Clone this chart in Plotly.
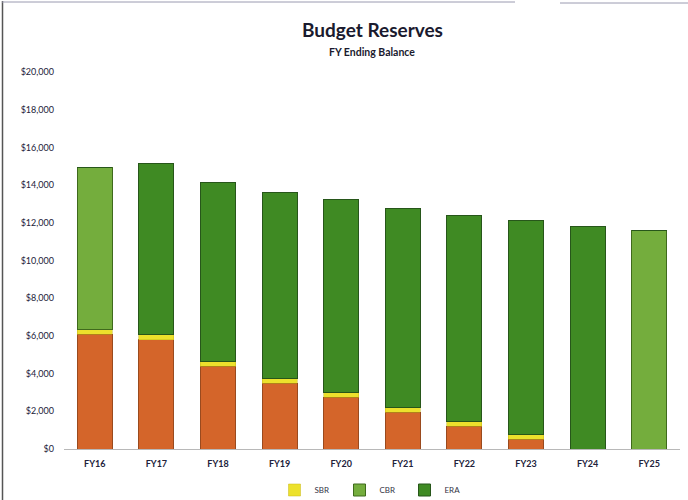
import plotly.graph_objects as go

years = ["FY16", "FY17", "FY18", "FY19", "FY20", "FY21", "FY22", "FY23", "FY24", "FY25"]
other = [6100, 5800, 4400, 3500, 2750, 1950, 1200, 530, 0, 0]
sbr = [260, 260, 260, 260, 260, 260, 260, 260, 0, 0]
cbr = [8570, 0, 0, 0, 0, 0, 0, 0, 0, 11580]
era = [0, 9110, 9490, 9860, 10250, 10560, 10950, 11320, 11790, 0]
y_ticks = [0, 2000, 4000, 6000, 8000, 10000, 12000, 14000, 16000, 18000, 20000]
y_labels = ["$0", "$2,000", "$4,000", "$6,000", "$8,000", "$10,000", "$12,000",
            "$14,000", "$16,000", "$18,000", "$20,000"]

FONT = "Lato"
W, H = 688, 500
ML, MR, MT, MB = 64, 8, 72, 51
plot_h = H - MT - MB
plot_w = W - ML - MR


def py(pix):
    return (H - MB - pix) / plot_h


def px(pix):
    return (pix - ML) / plot_w


fig = go.Figure()
fig.add_bar(x=years, y=other, name="Other", showlegend=False,
            marker=dict(color="#d4652a", line=dict(color="#9a4a1e", width=1)))
fig.add_bar(x=years, y=sbr, name="SBR",
            marker=dict(color="#ece12c", line=dict(color="#c8b818", width=0.5)))
fig.add_bar(x=years, y=cbr, name="CBR",
            marker=dict(color="#74ad3d", line=dict(color="#3f6a1c", width=1)))
fig.add_bar(x=years, y=era, name="ERA",
            marker=dict(color="#3f8a23", line=dict(color="#27561a", width=1)))

fig.update_layout(
    barmode="stack",
    bargap=0.43,
    width=W, height=H,
    margin=dict(l=ML, r=MR, t=MT, b=MB, autoexpand=False),
    paper_bgcolor="white", plot_bgcolor="white",
    font=dict(family=FONT, color="#22223a"),
    showlegend=True,
    legend=dict(orientation="h", x=0.5, xanchor="center",
                yref="container", y=1 - 490 / H, yanchor="middle",
                font=dict(size=8, family=FONT, color="#333344"), traceorder="normal",
                itemwidth=30, entrywidth=20, entrywidthmode="pixels"),
    xaxis=dict(showline=True, linecolor="#b8b8b8", linewidth=1, ticks="",
               tickfont=dict(size=9, family=FONT, color="#22223a", weight="bold"),
               ticklabelstandoff=6, showgrid=False),
    yaxis=dict(range=[0, 20000], tickvals=y_ticks, ticktext=y_labels,
               tickfont=dict(size=9, family=FONT, color="#22223a"),
               showgrid=False, zeroline=False, showline=False, ticks="",
               ticklabelstandoff=9),
    annotations=[
        dict(text="<b>Budget Reserves</b>", x=0.5, y=py(30), xref="paper", yref="paper",
             yanchor="middle", showarrow=False,
             font=dict(size=19, family=FONT, color="#1a1a2e")),
        dict(text="<b>FY Ending Balance</b>", x=0.5, y=py(52), xref="paper", yref="paper",
             yanchor="middle", showarrow=False,
             font=dict(size=10.5, family=FONT, color="#1a1a2e")),
    ],
    shapes=[
        dict(type="line", xref="paper", yref="paper", x0=px(2.5), x1=px(2.5), y0=py(500), y1=py(1),
             line=dict(color="#555555", width=1.5)),
        dict(type="line", xref="paper", yref="paper", x0=px(2), x1=px(515), y0=py(2), y1=py(2),
             line=dict(color="#9a9ab0", width=1)),
        dict(type="line", xref="paper", yref="paper", x0=px(560), x1=px(688), y0=py(3), y1=py(3),
             line=dict(color="#9a9ab0", width=1)),
    ],
)

fig.write_html("out.html", config={"displayModeBar": False},
               post_script="document.body.style.margin='0';")
